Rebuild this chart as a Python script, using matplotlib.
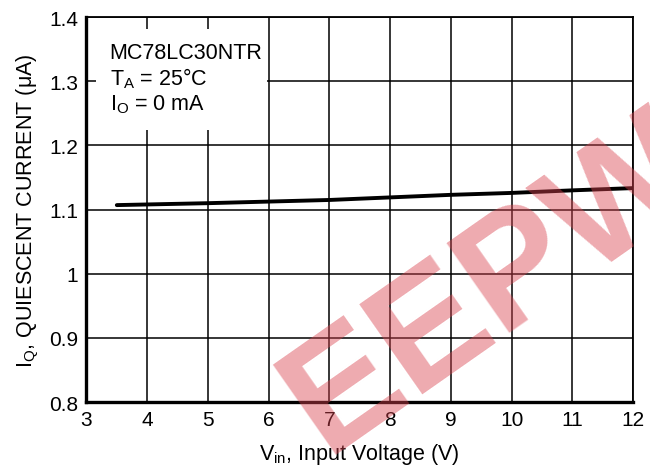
import matplotlib
matplotlib.use('Agg')
import matplotlib.pyplot as plt
import numpy as np

# quiescent current vs input voltage
vin = [3.5, 5, 7, 9, 10, 11, 12]
iq = [1.107, 1.110, 1.115, 1.123, 1.126, 1.130, 1.1335]

xticks = [3, 4, 5, 6, 7, 8, 9, 10, 11, 12]
yticks = [0.8, 0.9, 1.0, 1.1, 1.2, 1.3, 1.4]
ytick_labels = ['0.8', '0.9', '1', '1.1', '1.2', '1.3', '1.4']

plt.rcParams['font.family'] = ['Liberation Sans', 'DejaVu Sans']

fig = plt.figure(figsize=(6.5, 4.77), dpi=100)
ax = fig.add_axes([0.133, 0.155, 0.841, 0.807])

ax.plot(vin, iq, color='black', lw=2.8, solid_capstyle='round', zorder=3)

ax.set_xlim(3, 12)
ax.set_ylim(0.8, 1.4)
ax.set_xticks(xticks)
ax.set_yticks(yticks)
ax.set_yticklabels(ytick_labels)
ax.tick_params(length=0, labelsize=15, pad=6)
ax.grid(True, color='black', lw=1.1)
ax.set_axisbelow(True)
for s in ['left', 'bottom']:
    ax.spines[s].set_linewidth(2.4)
for s in ['top', 'right']:
    ax.spines[s].set_linewidth(1.3)

ax.set_xlabel('V$_\\mathregular{in}$, Input Voltage (V)', fontsize=15.5, labelpad=8)
ax.set_ylabel('I$_\\mathregular{Q}$, QUIESCENT CURRENT (\u03bcA)', fontsize=15.5, labelpad=6)

# white label box covering the grid
ax.axvspan(3.15, 5.98, ymin=(1.224 - 0.8) / 0.6, ymax=(1.381 - 0.8) / 0.6,
           color='white', zorder=2, lw=0)
ax.text(3.38, 1.362, 'MC78LC30NTR\nT$_\\mathregular{A}$ = 25\u00b0C\nI$_\\mathregular{O}$ = 0 mA',
        fontsize=15.5, va='top', ha='left', linespacing=1.15, zorder=4)

# watermark
fig.text(0.76, 0.40, 'EEPW', fontsize=115, fontweight='bold', color='#d9434f',
         alpha=0.45, rotation=35, ha='center', va='center', zorder=10)

fig.savefig('out.png', dpi=100)
